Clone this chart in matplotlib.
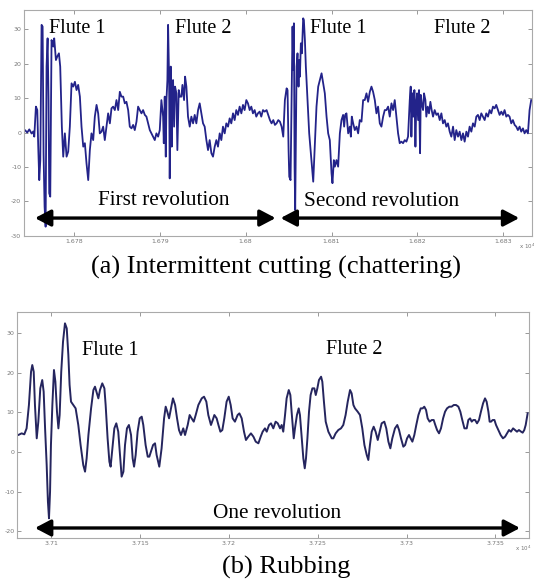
import matplotlib
matplotlib.use("Agg")
import matplotlib.pyplot as plt
from matplotlib.ticker import FixedLocator, FixedFormatter

plt.rcParams['font.family'] = ['Liberation Serif', 'DejaVu Serif']

# ---------------- data: (a) intermittent cutting ----------------
top_t = [16774.19, 16774.30, 16774.57, 16774.81, 16775.08, 16775.27, 16775.39, 16775.58, 16775.74, 16775.85,
         16775.97, 16776.09, 16776.24, 16776.36, 16776.47, 16776.59, 16776.71, 16776.82, 16776.94, 16777.05,
         16777.13, 16777.25, 16777.40, 16777.60, 16777.71, 16777.91, 16778.06, 16778.26, 16778.41, 16778.60,
         16778.76, 16778.95, 16779.15, 16779.34, 16779.53, 16779.73, 16779.92, 16780.12, 16780.31, 16780.50,
         16780.70, 16780.89, 16781.09, 16781.28, 16781.47, 16781.67, 16781.86, 16782.05, 16782.25, 16782.44,
         16782.64, 16782.83, 16783.02, 16783.22, 16783.41, 16783.60, 16783.80, 16783.99, 16784.19, 16784.38,
         16784.57, 16784.77, 16784.96, 16785.16, 16785.35, 16785.54, 16785.74, 16785.93, 16786.12, 16786.32,
         16786.51, 16786.71, 16786.90, 16787.09, 16787.29, 16787.48, 16787.67, 16787.87, 16788.06, 16788.26,
         16788.45, 16788.64, 16788.84, 16789.03, 16789.22, 16789.42, 16789.61, 16789.81, 16790.00, 16790.19,
         16790.39, 16790.47, 16790.58, 16790.70, 16790.78, 16790.89, 16790.97, 16791.09, 16791.16, 16791.28,
         16791.40, 16791.47, 16791.55, 16791.67, 16791.78, 16791.94, 16792.05, 16792.21, 16792.33, 16792.52,
         16792.64, 16792.83, 16792.95, 16793.10, 16793.29, 16793.49, 16793.68, 16793.88, 16794.07, 16794.26,
         16794.46, 16794.65, 16794.84, 16795.04, 16795.23, 16795.43, 16795.62, 16795.81, 16796.01, 16796.20,
         16796.40, 16796.59, 16796.78, 16796.98, 16797.17, 16797.36, 16797.56, 16797.75, 16797.95, 16798.14,
         16798.33, 16798.53, 16798.72, 16798.91, 16799.11, 16799.30, 16799.50, 16799.69, 16799.88, 16800.08,
         16800.27, 16800.47, 16800.66, 16800.85, 16801.05, 16801.24, 16801.43, 16801.63, 16801.82, 16802.02,
         16802.21, 16802.44, 16802.63, 16802.83, 16803.02, 16803.22, 16803.41, 16803.60, 16803.80, 16803.99,
         16804.19, 16804.38, 16804.57, 16804.69, 16804.77, 16804.88, 16805.00, 16805.08, 16805.23, 16805.35,
         16805.46, 16805.54, 16805.62, 16805.70, 16805.77, 16805.93, 16806.04, 16806.16, 16806.24, 16806.32,
         16806.43, 16806.55, 16806.70, 16806.78, 16806.90, 16807.01, 16807.13, 16807.25, 16807.40, 16807.56,
         16807.71, 16807.87, 16808.06, 16808.25, 16808.45, 16808.64, 16808.84, 16809.03, 16809.22, 16809.42,
         16809.61, 16809.80, 16810.00, 16810.11, 16810.27, 16810.39, 16810.58, 16810.77, 16810.97, 16811.16,
         16811.35, 16811.47, 16811.59, 16811.74, 16811.94, 16812.13, 16812.25, 16812.36, 16812.52, 16812.71,
         16812.91, 16813.10, 16813.29, 16813.49, 16813.68, 16813.87, 16814.07, 16814.26, 16814.46, 16814.65,
         16814.84, 16815.04, 16815.23, 16815.42, 16815.62, 16815.81, 16816.01, 16816.20, 16816.39, 16816.59,
         16816.78, 16816.98, 16817.17, 16817.36, 16817.56, 16817.75, 16817.94, 16818.14, 16818.33, 16818.53,
         16818.72, 16818.91, 16819.11, 16819.22, 16819.30, 16819.42, 16819.53, 16819.65, 16819.77, 16819.88,
         16819.96, 16820.08, 16820.19, 16820.31, 16820.39, 16820.50, 16820.66, 16820.77, 16820.93, 16821.04,
         16821.20, 16821.35, 16821.51, 16821.66, 16821.82, 16822.01, 16822.21, 16822.40, 16822.60, 16822.79,
         16822.98, 16823.18, 16823.37, 16823.56, 16823.76, 16823.95, 16824.15, 16824.34, 16824.53, 16824.73,
         16824.92, 16825.12, 16825.31, 16825.50, 16825.70, 16825.89, 16826.08, 16826.28, 16826.47, 16826.67,
         16826.86, 16827.05, 16827.25, 16827.44, 16827.63, 16827.83, 16828.02, 16828.22, 16828.41, 16828.60,
         16828.80, 16828.99, 16829.18, 16829.38, 16829.57, 16829.77, 16829.96, 16830.15, 16830.35, 16830.54,
         16830.73, 16830.93, 16831.12, 16831.32, 16831.51, 16831.70, 16831.90, 16832.09, 16832.29, 16832.48,
         16832.67, 16832.87, 16833.06, 16833.25]
top_v = [0.5, 0.7, 0.0, 0.9, -0.3, 0.3, -1.2, 7.5, 6.5, -4.1,
         -13.8, -8.0, 31.2, 30.7, -6.0, -21.5, -27.3, 19.1, 27.3, 9.4,
         -17.6, -18.6, 26.8, 24.9, 27.3, 21.0, 22.0, 22.95, 19.1, 1.7,
         -7.0, -0.25, -7.0, -5.55, 1.7, 14.25, 13.3, 14.7, 12.3, 13.8,
         10.4, 1.7, -4.1, -3.1, -8.9, -13.8, -5.1, -0.25, -2.2, 4.6,
         8.0, 5.55, -0.25, 0.25, 1.7, -2.2, 1.7, 5.55, 2.65, 7.0,
         7.5, 6.5, 9.4, 6.5, 11.8, 10.4, 10.4, 8.45, 8.9, 6.5,
         1.7, 1.2, 2.2, 0.7, 3.15, 7.5, 6.5, 5.55, 6.5, 5.1,
         4.6, 2.65, 0.7, -0.25, -1.2, -2.2, -0.25, -1.2, 0.7, 9.4,
         4.6, -3.1, 10.4, -7.0, 9.4, 15.2, 31.2, 15.2, -13.3, 19.1,
         -4.1, 11.35, 15.2, 1.7, 13.3, 11.35, -5.1, 12.3, 10.4, 10.4,
         13.8, 9.4, 16.2, 13.3, 4.6, 1.7, 4.6, 2.65, 5.1, 2.65,
         6.5, 8.45, 5.55, 2.65, 1.7, -2.2, -5.1, -2.2, -6.0, -7.0,
         -4.1, -2.2, -4.1, -0.25, -2.2, 1.7, -0.25, 2.65, 1.7, 4.1,
         2.65, 5.55, 3.6, 6.5, 5.1, 7.5, 5.55, 8.0, 6.5, 9.4,
         8.45, 6.5, 7.5, 5.55, 6.5, 4.6, 5.55, 6.05, 4.6, 6.5,
         6.05, 6.5, 5.1, 3.6, 2.65, 3.6, 2.2, 2.65, 3.6, 3.15,
         1.7, -1.2, 9.4, 11.35, 12.8, 12.3, -5.1, -12.8, -13.8, 9.4,
         30.7, 18.1, 31.65, -9.9, -22.5, 19.1, 22.95, 13.3, 21.0, 16.2,
         25.85, 22.95, 33.1, 32.6, 26.8, 19.1, 13.3, 7.5, -0.25, -5.1,
         -9.9, -14.25, -3.1, 7.5, 13.3, 15.2, 17.15, 14.25, 11.35, 4.6,
         -0.25, -2.2, -11.8, -14.7, -8.0, -9.9, -8.0, -9.9, -0.25, 3.6,
         5.1, 1.7, 5.1, 5.55, -0.25, 1.7, -1.2, 4.6, 2.65, 0.7,
         1.7, -0.25, 3.6, 3.15, 9.4, 9.4, 11.35, 8.9, 11.8, 13.3,
         11.8, 9.4, 5.55, 7.5, 2.65, 1.7, 4.6, 6.5, 6.5, 7.5,
         4.6, 8.45, 6.5, 9.4, 4.6, -0.25, -3.1, -2.65, -3.1, -2.2,
         -2.65, -1.2, 9.4, 13.3, -1.2, 11.35, 4.6, 12.3, -4.1, 9.4,
         11.35, 3.6, 12.3, -6.0, 10.9, 8.45, 6.5, 11.35, 9.4, 4.6,
         7.5, 5.55, 8.9, 6.5, 4.6, 6.5, 5.1, 5.55, 3.6, 5.55,
         2.65, 3.6, 1.7, 2.65, 0.25, -1.2, 1.7, -2.2, 0.7, -1.2,
         0.25, -2.2, -0.25, -2.65, 0.25, -1.2, 1.7, 0.25, 2.65, 1.7,
         4.6, 5.1, 3.6, 5.55, 4.6, 3.6, 5.55, 4.6, 6.5, 5.55,
         7.5, 7.0, 8.0, 6.5, 5.1, 6.05, 5.1, 6.5, 4.6, 5.1,
         4.6, 2.65, 3.6, 2.2, 1.7, 0.7, 1.7, 0.25, 1.2, -0.25,
         0.7, -0.25, 6.5, 9.4]

top_xticks = [16780, 16790, 16800, 16810, 16820, 16830]
top_xticklabels = ["1.678", "1.679", "1.68", "1.681", "1.682", "1.683"]
top_yticks = [-30, -20, -10, 0, 10, 20, 30]

# ---------------- data: (b) rubbing ----------------
bot_t = [37080.86, 37081.4, 37083.3, 37084.8, 37086.1, 37087.4, 37088.6, 37089.3, 37090.1, 37090.8,
         37091.8, 37092.7, 37093.8, 37094.9, 37095.7, 37096.5, 37097.4, 37098.1, 37098.7, 37099.3,
         37099.8, 37100.6, 37101.5, 37102.3, 37103.2, 37104.0, 37104.7, 37105.6, 37106.6, 37107.7,
         37108.7, 37109.6, 37110.3, 37111.1, 37112.4, 37113.7, 37115.2, 37116.5, 37118.0, 37119.0,
         37119.9, 37120.9, 37122.4, 37123.7, 37124.6, 37125.7, 37126.5, 37127.4, 37128.7, 37129.9,
         37130.6, 37131.7, 37132.7, 37133.4, 37134.4, 37135.5, 37136.6, 37137.7, 37138.7, 37139.6,
         37140.6, 37141.5, 37142.6, 37143.7, 37144.9, 37145.8, 37146.6, 37147.5, 37148.6, 37149.8,
         37150.9, 37151.8, 37153.1, 37154.3, 37155.2, 37156.1, 37157.3, 37158.4, 37159.3, 37160.8,
         37162.1, 37163.5, 37164.4, 37165.3, 37166.3, 37167.4, 37168.5, 37169.7, 37170.8, 37171.9,
         37173.0, 37174.3,
         37175.3, 37176.8, 37177.9, 37179.0, 37180.2, 37181.3, 37182.8, 37184.7, 37186.0, 37187.3,
         37188.4, 37189.9, 37190.9, 37191.8, 37193.1, 37194.1, 37195.2, 37196.3, 37197.4, 37198.7,
         37199.9, 37201.0, 37202.1, 37203.4, 37204.9, 37205.9, 37207.2, 37208.5, 37209.6, 37210.9,
         37212.4, 37213.8, 37215.1, 37216.6, 37217.9, 37219.0, 37220.3, 37221.3, 37222.6, 37223.7,
         37225.0, 37226.3, 37227.5, 37228.8, 37229.7, 37230.6, 37231.6, 37232.5, 37233.7, 37234.6,
         37235.3, 37236.5, 37237.2, 37238.3, 37239.3, 37240.0, 37241.0, 37241.9, 37242.7, 37243.4,
         37244.2, 37245.1, 37246.0, 37247.0, 37248.1, 37248.9, 37249.8, 37250.7, 37251.9, 37252.6,
         37253.5, 37254.5, 37256.0, 37257.9, 37258.8, 37260.1, 37261.6, 37263.1, 37264.4, 37265.7,
         37266.9, 37268.2, 37269.1, 37270.1,
         37271.0, 37272.5, 37273.8, 37275.1, 37276.3, 37277.6, 37278.5, 37279.4, 37280.4, 37281.5,
         37282.6, 37283.8, 37284.9, 37286.0, 37287.5, 37288.6, 37289.8, 37290.9, 37292.0, 37293.5,
         37294.8, 37295.8, 37296.9, 37298.2, 37299.2, 37300.3, 37301.4, 37302.3, 37303.3, 37304.4,
         37305.5, 37306.7, 37308.0, 37309.1, 37310.0, 37311.0, 37311.9, 37313.0, 37314.2, 37315.3,
         37316.2, 37317.2, 37318.3, 37319.4, 37320.6, 37321.7, 37322.8, 37324.1, 37325.4, 37326.6,
         37327.9, 37329.2, 37330.3, 37331.4, 37332.6, 37333.9, 37334.8, 37335.8, 37336.7, 37337.6,
         37338.6, 37339.7, 37340.8, 37341.9, 37343.1, 37344.2, 37345.1, 37346.1, 37346.8, 37347.6,
         37348.5, 37349.5, 37350.4, 37351.7, 37353.0, 37354.3, 37355.5, 37356.6, 37357.7, 37358.8,
         37360.0, 37361.1, 37362.2, 37363.3, 37364.5, 37365.4, 37366.3, 37367.1, 37367.7, 37368.2]
bot_v = [4.3, 4.29, 4.71, 4.46, 5.97, 11.87, 20.28, 21.97, 20.28, 11.87,
         3.45, 7.66, 16.08, 18.18, 15.23, 5.97, -3.29, -12.55, -16.76, -10.02,
         1.76, 11.87, 20.71, 17.76, 10.18, 5.97, 9.34, 20.28, 27.86, 32.5,
         31.23, 24.49, 16.92, 12.71, 11.87, 11.02, 6.82, 1.76, -3.29, -4.97,
         -1.6, 4.29, 11.02, 15.65, 16.5, 14.81, 13.55, 15.65, 17.34, 16.08,
         11.87, 3.45, -2.45, -3.71, 0.92, 5.97, 7.24, 5.13, -0.76, -6.23,
         -4.97, 1.76, 5.97, 6.82, 4.29, -1.6, -3.71, -0.76, 5.13, 8.5,
         8.92, 6.82, 1.76, -1.18, -1.18, 0.08, 1.76, 2.19, -0.76, -3.71,
         0.92, 8.5, 11.45, 10.18, 8.5, 11.02, 13.55, 11.87, 8.5, 5.55,
         4.29, 5.97,
         4.29, 6.82, 9.34, 8.5, 7.66, 9.34, 11.87, 13.55, 13.97, 12.71,
         9.34, 6.82, 8.08, 9.34, 8.5, 6.82, 5.13, 5.55, 8.5, 12.71,
         13.97, 11.87, 8.5, 7.66, 9.34, 9.76, 8.5, 5.13, 3.03, 3.87,
         4.71, 3.87, 2.61, 2.19, 3.87, 5.13, 5.97, 5.13, 6.82, 7.24,
         5.97, 7.66, 7.24, 5.97, 6.82, 5.13, 9.34, 13.55, 15.65, 14.39,
         10.18, 3.45, 5.97, 9.34, 11.02, 9.34, 3.45, -1.6, -4.13, -1.6,
         3.45, 10.18, 14.39, 16.08, 16.08, 14.39, 16.08, 18.18, 19.02, 17.76,
         12.71, 7.66, 5.13, 3.45, 3.45, 4.71, 5.55, 5.97, 6.82, 9.34,
         12.71, 15.65, 14.81, 11.87,
         11.02, 10.18, 9.34, 5.97, 1.76, -0.76, -2.02, 1.76, 5.13, 6.39,
         5.13, 3.03, 5.13, 7.24, 7.66, 5.97, 2.61, 0.92, 3.45, 5.97,
         6.82, 5.55, 3.45, 1.34, 1.76, 3.45, 4.29, 3.45, 2.61, 4.29,
         6.82, 9.34, 11.02, 11.02, 11.45, 10.6, 8.5, 7.66, 8.08, 8.08,
         6.82, 5.55, 4.71, 5.97, 8.5, 10.18, 11.02, 11.45, 11.45, 11.87,
         11.87, 11.45, 10.18, 8.08, 5.97, 5.97, 8.08, 8.5, 7.66, 8.08,
         8.08, 7.24, 8.08, 10.18, 12.29, 13.55, 12.71, 10.18, 7.66, 7.66,
         8.08, 8.08, 6.82, 5.55, 4.29, 3.45, 3.87, 4.71, 5.55, 5.13,
         5.97, 5.55, 5.13, 5.55, 5.13, 4.88, 5.55, 6.82, 8.5, 9.76]

bot_xticks = [37100, 37150, 37200, 37250, 37300, 37350]
bot_xticklabels = ["3.71", "3.715", "3.72", "3.725", "3.73", "3.735"]
bot_yticks = [-20, -10, 0, 10, 20, 30]

# ---------------- figure ----------------
fig = plt.figure(figsize=(5.34, 5.83), dpi=100)
ax1 = fig.add_axes([0.0449, 0.5952, 0.9513, 0.3876])
ax2 = fig.add_axes([0.0324, 0.0767, 0.9577, 0.3877])

line_col = '#23238a'
ax1.plot(top_t, top_v, color=line_col, lw=1.3, solid_joinstyle='round')
ax2.plot(bot_t, bot_v, color='#25255e', lw=1.4, solid_joinstyle='round')

ax1.set_xlim(16774.19, 16833.34)
ax1.set_ylim(-30, 35.5)
ax2.set_xlim(37080.86, 37368.8)
ax2.set_ylim(-21.8, 35.3)

for ax, xt, xl, yt in [(ax1, top_xticks, top_xticklabels, top_yticks),
                       (ax2, bot_xticks, bot_xticklabels, bot_yticks)]:
    ax.xaxis.set_major_locator(FixedLocator(xt))
    ax.xaxis.set_major_formatter(FixedFormatter(xl))
    ax.set_yticks(yt)
    ax.set_yticklabels([str(v) for v in yt])
    ax.tick_params(direction='in', length=3, width=0.6, color='#888888',
                   labelsize=4.5, labelcolor='#777777', top=True, right=True, pad=2)
    for lab in ax.get_xticklabels() + ax.get_yticklabels():
        lab.set_family('DejaVu Sans')
    for sp in ax.spines.values():
        sp.set_color('#aaaaaa')
        sp.set_linewidth(0.8)
    ax.text(0.99, -0.045, r'x 10$^4$', transform=ax.transAxes, fontsize=4,
            color='#777777', ha='center', va='center', family='DejaVu Sans')

fs_flute = 14.5
fs_rev = 15.3
# texts (a)
ax1.text(16777.1, 28.7, 'Flute 1', fontsize=fs_flute, ha='left', va='baseline')
ax1.text(16791.74, 28.7, 'Flute 2', fontsize=fs_flute, ha='left', va='baseline')
ax1.text(16807.44, 28.7, 'Flute 1', fontsize=fs_flute, ha='left', va='baseline')
ax1.text(16821.98, 28.7, 'Flute 2', fontsize=fs_flute, ha='left', va='baseline')
ax1.text(16790.47, -21.0, 'First revolution', fontsize=fs_rev, ha='center', va='baseline')
ax1.text(16815.87, -21.3, 'Second revolution', fontsize=fs_rev, ha='center', va='baseline')

arrow_kw = dict(arrowstyle='<|-|>,head_length=0.95,head_width=0.5', lw=2.4,
                color='k', shrinkA=0, shrinkB=0, mutation_scale=10)
ax1.annotate('', xy=(16803.49, -24.8), xytext=(16775.47, -24.8), arrowprops=arrow_kw)
ax1.annotate('', xy=(16831.86, -24.8), xytext=(16804.07, -24.8), arrowprops=arrow_kw)

# texts (b)
ax2.text(37117.3, 24.5, 'Flute 1', fontsize=fs_flute, ha='left', va='baseline')
ax2.text(37254.7, 24.8, 'Flute 2', fontsize=fs_flute, ha='left', va='baseline')
ax2.text(37227.1, -16.7, 'One revolution', fontsize=fs_rev, ha='center', va='baseline')
ax2.annotate('', xy=(37363.9, -19.2), xytext=(37090.8, -19.2), arrowprops=arrow_kw)

# captions
fig.text(0.516, 1 - 267 / 583, '(a) Intermittent cutting (chattering)', fontsize=19,
         ha='center', va='center')
fig.text(0.535, 1 - 567 / 583, '(b) Rubbing', fontsize=19, ha='center', va='center')

fig.savefig('out.png', dpi=100)
